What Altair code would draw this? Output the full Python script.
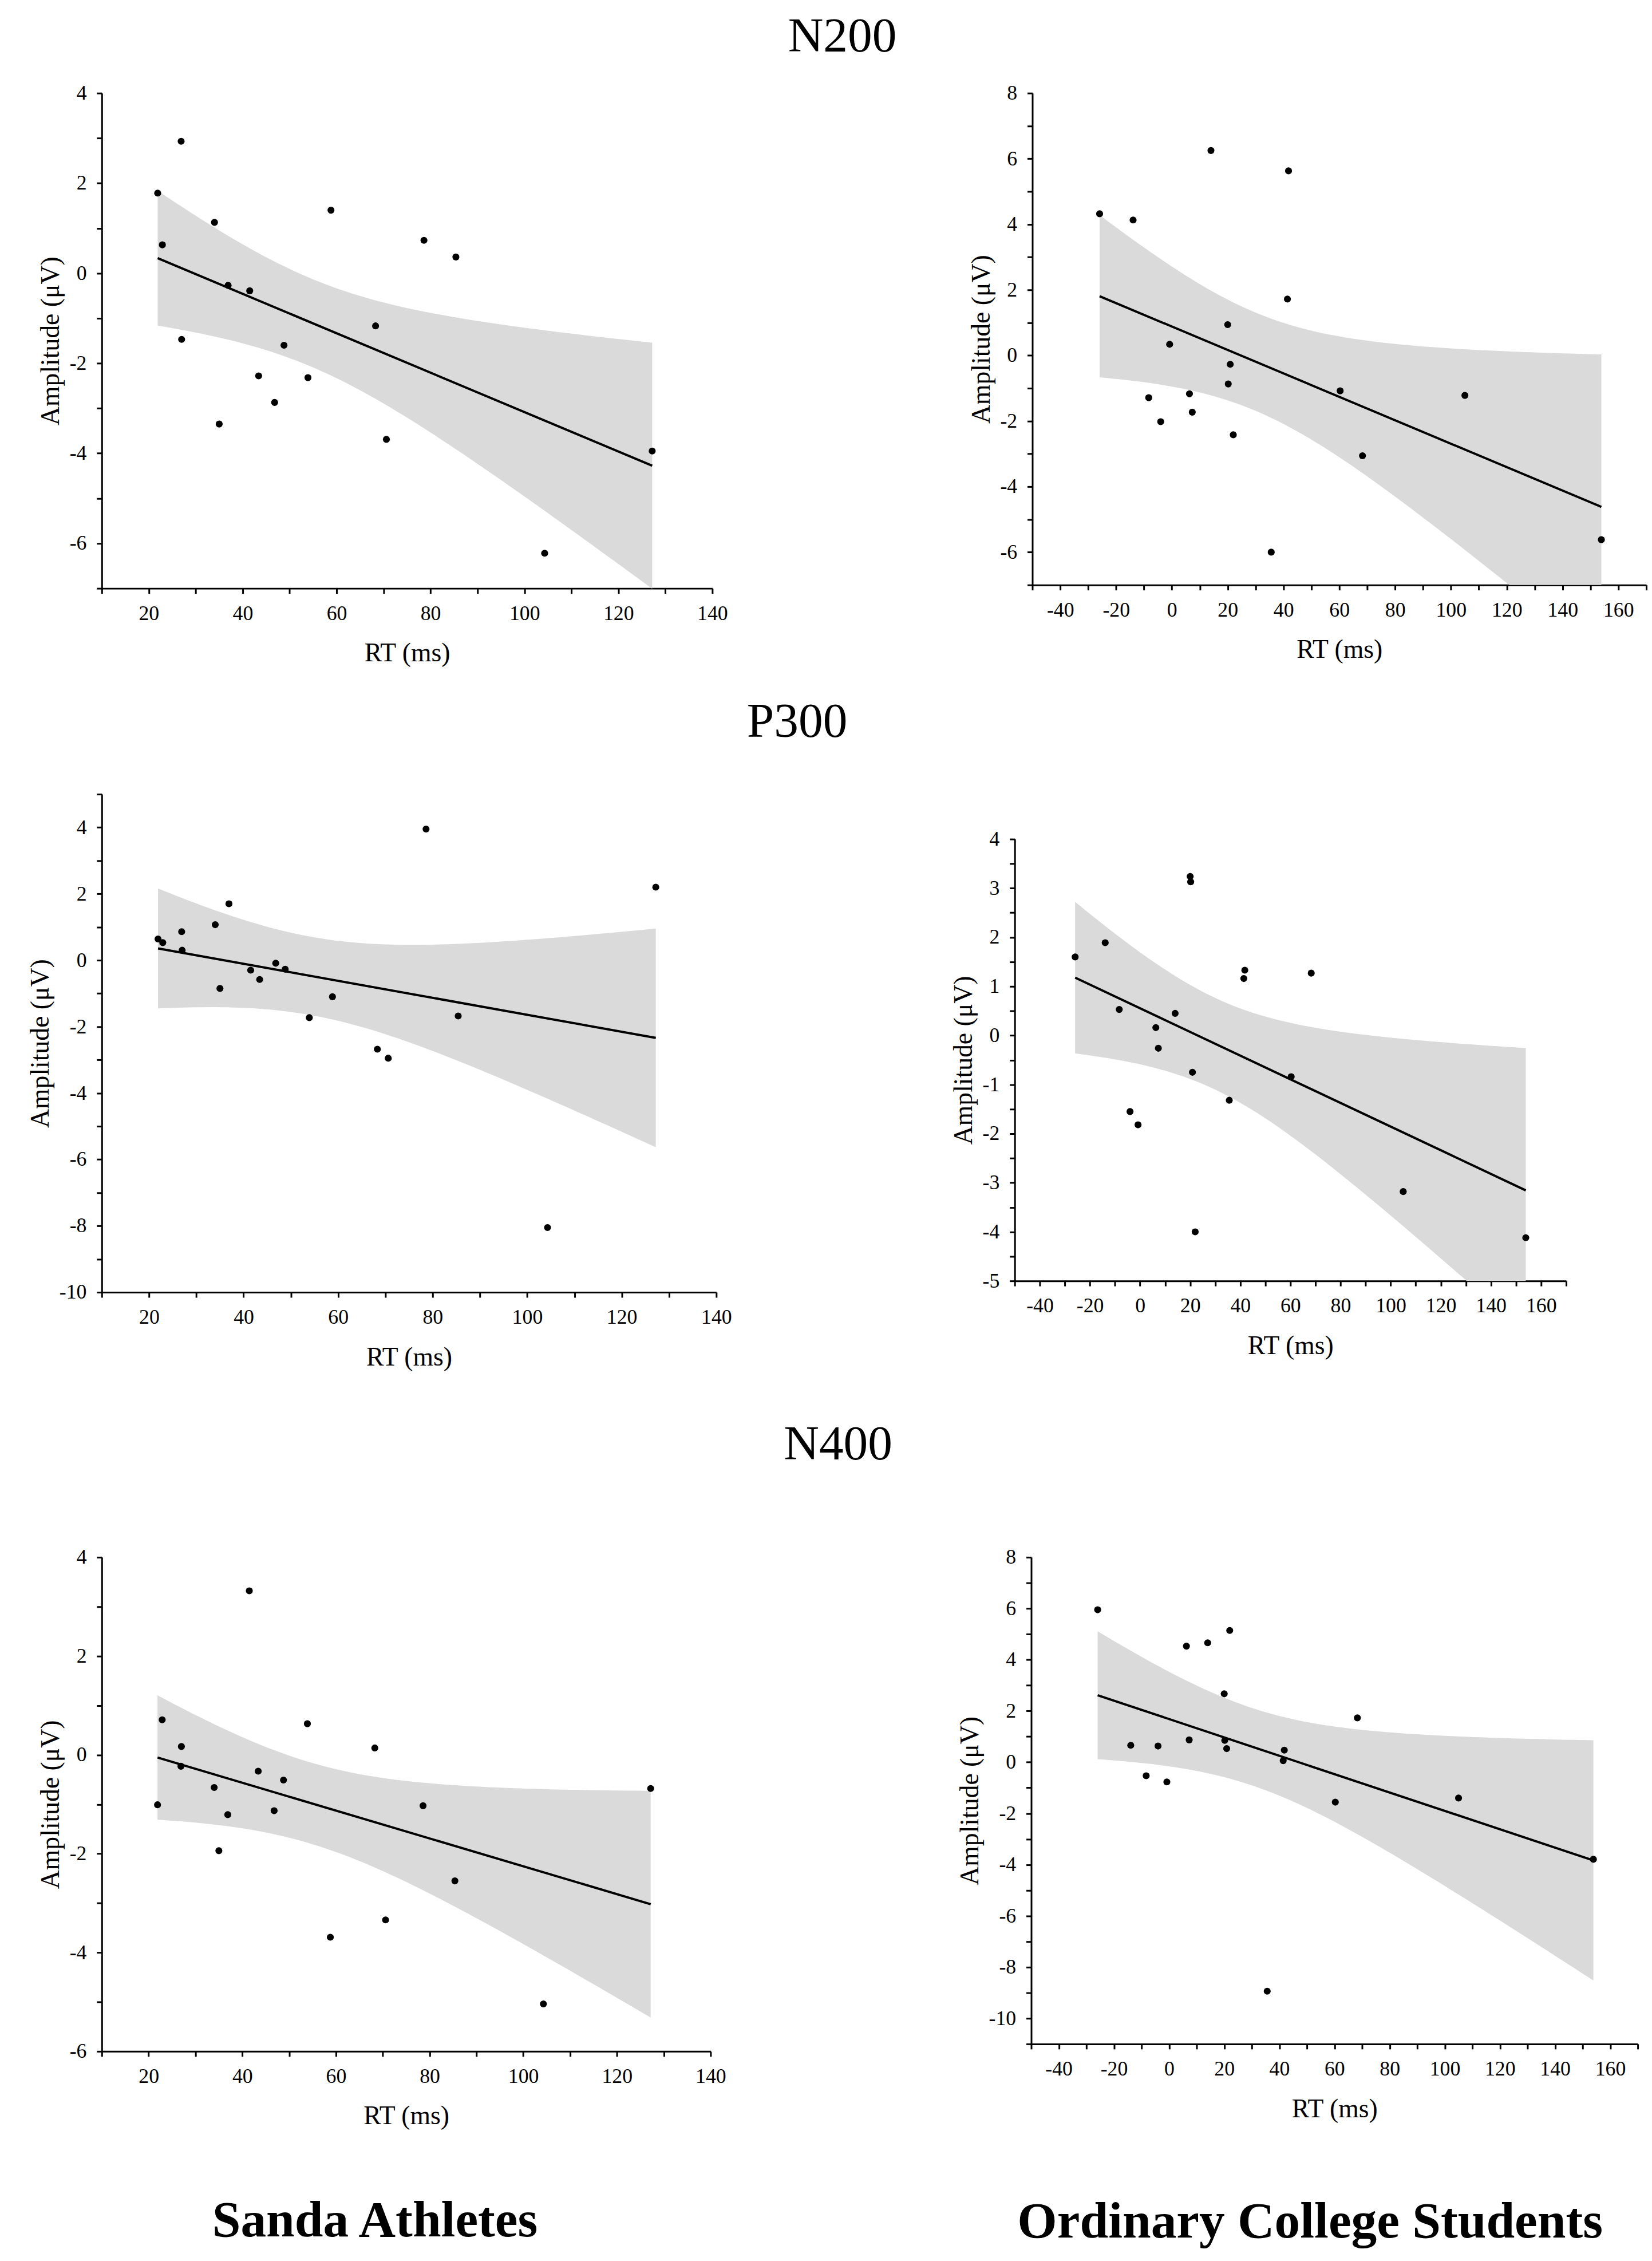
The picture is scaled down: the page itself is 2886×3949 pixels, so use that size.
import altair as alt
import numpy as np
import pandas as pd

# RT (ms) of each group, shared by the three ERP components
sanda_rt = [21.9, 22.9, 26.9, 27.0, 34.0, 35.0, 36.9, 41.5, 43.4, 46.8,
            48.8, 53.9, 58.8, 68.3, 70.6, 78.6, 85.4, 104.3, 127.2]
ordinary_rt = [-25.9, -13.9, -8.3, -4.0, -0.8, 6.3, 7.3, 14.0, 20.0, 20.2,
               20.9, 22.0, 35.6, 41.4, 41.8, 60.3, 68.3, 105.0, 153.9]

# Amplitudes (µV), one value per subject in the order of the RT lists
n200_sanda = [1.78, 0.63, 2.93, -1.47, 1.13, -3.35, -0.27, -0.39, -2.28, -2.87,
              -1.60, -2.32, 1.40, -1.17, -3.69, 0.73, 0.36, -6.22, -3.95]
p300_sanda = [0.64, 0.53, 0.86, 0.30, 1.07, -0.85, 1.70, -0.30, -0.58, -0.09,
              -0.27, -1.73, -1.10, -2.68, -2.95, 3.95, -1.68, -8.05, 2.20]
n400_sanda = [-1.01, 0.71, -0.23, 0.17, -0.66, -1.94, -1.21, 3.32, -0.33, -1.13,
              -0.51, 0.63, -3.69, 0.14, -3.34, -1.03, -2.55, -5.04, -0.68]

n200_ordinary = [4.32, 4.13, -1.29, -2.02, 0.34, -1.17, -1.73, 6.25, 0.94, -0.87,
                 -0.27, -2.42, -6.00, 1.72, 5.63, -1.08, -3.06, -1.22, -5.62]
p300_ordinary = [1.60, 1.89, 0.53, -1.55, -1.82, 0.16, -0.26, 0.45, 3.24, 3.13,
                 -0.75, -4.00, -1.32, 1.16, 1.33, -0.84, 1.27, -3.18, -4.12]
n400_ordinary = [5.95, 0.66, -0.53, 0.63, -0.77, 4.53, 0.87, 4.66, 2.67, 0.85,
                 0.53, 5.14, -8.94, 0.06, 0.47, -1.56, 1.73, -1.40, -3.79]

SERIF = "Liberation Serif"
T_975 = 2.1098  # Student t for a 95 % band, n - 2 = 17 degrees of freedom


def ci_band(xs, ys, steps=80):
    # 95 % confidence band of the least squares line
    x = np.asarray(xs, dtype=float)
    y = np.asarray(ys, dtype=float)
    slope, intercept = np.polyfit(x, y, 1)
    resid = y - (intercept + slope * x)
    s = np.sqrt((resid ** 2).sum() / (len(x) - 2))
    sxx = ((x - x.mean()) ** 2).sum()
    grid = np.linspace(x.min(), x.max(), steps)
    half = T_975 * s * np.sqrt(1 / len(x) + (grid - x.mean()) ** 2 / sxx)
    fit = intercept + slope * grid
    return pd.DataFrame({"x": grid, "lo": fit - half, "hi": fit + half})


def panel(xs, ys, x_dom, y_dom, y_step, y_label_step, width, height, title=None):
    pts = pd.DataFrame({"x": xs, "y": ys})
    x_ticks = list(range(x_dom[0], x_dom[1] + 1, 10))
    n_y = int(round((y_dom[1] - y_dom[0]) / y_step))
    y_ticks = [y_dom[0] + i * y_step for i in range(n_y + 1)]

    x_scale = alt.Scale(domain=x_dom, nice=False, zero=False)
    y_scale = alt.Scale(domain=y_dom, nice=False, zero=False)
    x_axis = alt.Axis(title="RT (ms)", values=x_ticks,
                      labelExpr="datum.value % 20 === 0 ? '' + datum.value : ''")
    y_axis = alt.Axis(title="Amplitude (μV)", values=y_ticks,
                      labelExpr=f"datum.value % {y_label_step} === 0 ? '' + datum.value : ''")

    band = alt.Chart(ci_band(xs, ys)).mark_area(color="#dadada", clip=True).encode(
        x=alt.X("x:Q", scale=x_scale, axis=x_axis),
        y=alt.Y("lo:Q", scale=y_scale, axis=y_axis),
        y2="hi:Q",
    )
    line = alt.Chart(pts).transform_regression("x", "y").mark_line(
        color="black", strokeWidth=4
    ).encode(
        x=alt.X("x:Q", scale=x_scale),
        y=alt.Y("y:Q", scale=y_scale),
    )
    dots = alt.Chart(pts).mark_circle(color="black", opacity=1, size=150).encode(
        x=alt.X("x:Q", scale=x_scale),
        y=alt.Y("y:Q", scale=y_scale),
    )
    chart = (band + line + dots).properties(width=width, height=height)
    if title is not None:
        chart = chart.properties(title=title)
    return chart


def row_title(text, offset):
    return alt.TitleParams(text, anchor="middle", font=SERIF, fontSize=86,
                           fontWeight="normal", color="black", offset=offset)


def group_title(text, offset, dx):
    return alt.TitleParams(text, orient="bottom", anchor="middle", font=SERIF,
                           fontSize=90, fontWeight="bold", color="black",
                           offset=offset, dx=dx)


p1 = panel(sanda_rt, n200_sanda, [10, 140], [-7, 4], 1, 2, 1074, 871)
p2 = panel(ordinary_rt, n200_ordinary, [-50, 170], [-7, 8], 1, 2, 1080, 865)
p3 = panel(sanda_rt, p300_sanda, [10, 140], [-10, 5], 1, 2, 1081, 876)
p4 = panel(ordinary_rt, p300_ordinary, [-50, 170], [-5, 4], 0.5, 1, 970, 777)
p5 = panel(sanda_rt, n400_sanda, [10, 140], [-6, 4], 1, 2, 1071, 869,
           title=group_title("Sanda Athletes", 117, -55))
p6 = panel(ordinary_rt, n400_ordinary, [-50, 170], [-11, 8], 1, 2, 1067, 856,
           title=group_title("Ordinary College Students", 132, -43))

# empty strip that drops the right P300 panel a little lower
spacer = alt.Chart(pd.DataFrame({"gap": [0]})).mark_rule(opacity=0).encode(
    y=alt.value(0)
).properties(width=970, height=61)

row1 = alt.hconcat(p1, p2, spacing=423, title=row_title("N200", 37))
row2 = alt.hconcat(p3, alt.vconcat(spacer, p4, spacing=0), spacing=385,
                   title=row_title("P300", 65))
row3 = alt.hconcat(p5, p6, spacing=406, title=row_title("N400", 136))

chart = alt.vconcat(row1, alt.vconcat(row2, row3, spacing=88), spacing=55).properties(
    padding={"left": 40, "top": 0, "right": 0, "bottom": 10},
    background="white",
).configure_view(
    strokeWidth=0
).configure_axis(
    grid=False,
    domainColor="black",
    domainWidth=3,
    tickColor="black",
    tickWidth=3,
    tickSize=9,
    labelFont=SERIF,
    labelFontSize=36,
    labelColor="black",
    labelPadding=18,
    labelFlush=False,
    labelOverlap=False,
    titleFont=SERIF,
    titleFontSize=46,
    titleFontWeight="normal",
    titleColor="black",
).configure_axisX(
    titlePadding=30
).configure_axisY(
    titlePadding=9
)

chart.save("out.html", embed_options={"renderer": "svg", "actions": False})
